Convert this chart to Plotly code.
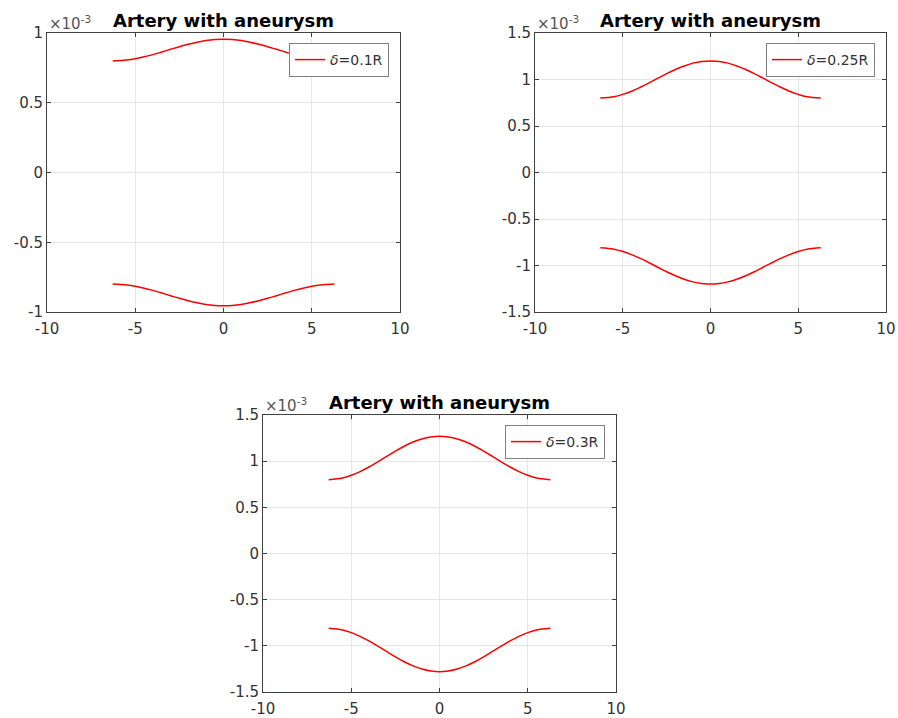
import plotly.graph_objects as go

# axial position (same for every panel)
x_pos = [-6.28, -5.5, -5.0, -4.5, -4.0, -3.5, -3.0, -2.5, -2.0, -1.5, -1.0, -0.5, 0.0,
         0.5, 1.0, 1.5, 2.0, 2.5, 3.0, 3.5, 4.0, 4.5, 5.0, 5.5, 6.28]

# wall radius, in units of 1e-3
upper_01 = [0.800, 0.806, 0.815, 0.829, 0.845, 0.864, 0.883, 0.902, 0.919, 0.934, 0.946, 0.953, 0.955,
            0.953, 0.946, 0.934, 0.919, 0.902, 0.883, 0.864, 0.845, 0.829, 0.815, 0.806, 0.800]
lower_01 = [-0.800, -0.806, -0.815, -0.829, -0.845, -0.864, -0.883, -0.902, -0.919, -0.934, -0.946, -0.953, -0.955,
            -0.953, -0.946, -0.934, -0.919, -0.902, -0.883, -0.864, -0.845, -0.829, -0.815, -0.806, -0.800]
upper_025 = [0.800, 0.815, 0.840, 0.874, 0.917, 0.964, 1.014, 1.063, 1.108, 1.146, 1.176, 1.194, 1.200,
             1.194, 1.176, 1.146, 1.108, 1.063, 1.014, 0.964, 0.917, 0.874, 0.840, 0.815, 0.800]
lower_025 = [-0.810, -0.825, -0.849, -0.883, -0.924, -0.970, -1.019, -1.067, -1.110, -1.148, -1.176, -1.194, -1.200,
             -1.194, -1.176, -1.148, -1.110, -1.067, -1.019, -0.970, -0.924, -0.883, -0.849, -0.825, -0.810]
upper_03 = [0.800, 0.818, 0.847, 0.887, 0.937, 0.993, 1.051, 1.109, 1.162, 1.207, 1.241, 1.262, 1.270,
            1.262, 1.241, 1.207, 1.162, 1.109, 1.051, 0.993, 0.937, 0.887, 0.847, 0.818, 0.800]
lower_03 = [-0.810, -0.828, -0.857, -0.897, -0.947, -1.003, -1.061, -1.119, -1.172, -1.217, -1.251, -1.272, -1.280,
            -1.272, -1.251, -1.217, -1.172, -1.119, -1.061, -1.003, -0.947, -0.897, -0.857, -0.828, -0.810]

legend_labels = ["<i>δ</i>=0.1R", "<i>δ</i>=0.25R", "<i>δ</i>=0.3R"]
title_text = "Artery with aneurysm"

x_ticks = [-10, -5, 0, 5, 10]
x_ticktext = ["-10", "-5", "0", "5", "10"]
y_ticks_1 = [-1, -0.5, 0, 0.5, 1]
y_ticktext_1 = ["-1", "-0.5", "0", "0.5", "1"]
y_ticks_2 = [-1.5, -1, -0.5, 0, 0.5, 1, 1.5]
y_ticktext_2 = ["-1.5", "-1", "-0.5", "0", "0.5", "1", "1.5"]

W, H = 898, 718
# panel pixel boxes: left, right, top, bottom
boxes = [(47, 400, 33, 312), (535, 886, 33, 312), (263, 616, 415, 692)]

panels = [
    (upper_01, lower_01, legend_labels[0], y_ticks_1, y_ticktext_1, [-1, 1]),
    (upper_025, lower_025, legend_labels[1], y_ticks_2, y_ticktext_2, [-1.5, 1.5]),
    (upper_03, lower_03, legend_labels[2], y_ticks_2, y_ticktext_2, [-1.5, 1.5]),
]

fig = go.Figure()
font_fam = "DejaVu Sans"
tick_col = "#333333"
layout = dict(
    width=W, height=H, margin=dict(l=0, r=0, t=0, b=0, autoexpand=False),
    paper_bgcolor="white", plot_bgcolor="white",
    font=dict(family=font_fam, color=tick_col),
    annotations=[],
)

for i, (up, lo, lab, yt, ytt, yr) in enumerate(panels):
    n = "" if i == 0 else str(i + 1)
    L, R, T, B = boxes[i]
    xd = [L / W, R / W]
    yd = [1 - B / H, 1 - T / H]
    leg = "legend" if i == 0 else f"legend{i+1}"
    fig.add_trace(go.Scatter(x=x_pos, y=up, mode="lines", line=dict(color="#ff0000", width=1.5, shape="spline"),
                             name=lab, showlegend=True, legend=leg, xaxis=f"x{n}", yaxis=f"y{n}"))
    fig.add_trace(go.Scatter(x=x_pos, y=lo, mode="lines", line=dict(color="#ff0000", width=1.5, shape="spline"),
                             name=lab, showlegend=False, legend=leg, xaxis=f"x{n}", yaxis=f"y{n}"))
    axcommon = dict(showline=True, linecolor="#404040", linewidth=1, mirror="allticks",
                    ticks="inside", ticklen=4, tickcolor="#404040",
                    showgrid=True, gridcolor="#e6e6e6", gridwidth=1, zeroline=False,
                    tickfont=dict(family=font_fam, size=15, color=tick_col))
    layout[f"xaxis{n}"] = dict(domain=xd, range=[-10, 10], tickvals=x_ticks, ticktext=x_ticktext,
                               anchor=f"y{n}", automargin=False, ticklabelstandoff=3, **axcommon)
    layout[f"yaxis{n}"] = dict(domain=yd, range=yr, tickvals=yt, ticktext=ytt,
                               anchor=f"x{n}", automargin=False, **axcommon)
    layout[leg] = dict(x=(R - 11) / W, y=1 - (T + 10) / H, xanchor="right", yanchor="top",
                       xref="paper", yref="paper",
                       bgcolor="white", bordercolor="#808080", borderwidth=1,
                       font=dict(family=font_fam, size=14, color=tick_col),
                       itemwidth=30, tracegroupgap=0)
    layout["annotations"].append(dict(text=f"<b>{title_text}</b>", x=(L + R) / 2 / W, y=1 - (T - 13) / H,
                                      xref="paper", yref="paper", xanchor="center", yanchor="middle",
                                      showarrow=False, font=dict(family=font_fam, size=18, color="black")))
    layout["annotations"].append(dict(text="×10<sup>-3</sup>", x=L / W, y=1 - (T + 2) / H,
                                      xref="paper", yref="paper", xanchor="left", yanchor="bottom",
                                      showarrow=False, font=dict(family=font_fam, size=15, color="#555555")))

fig.update_layout(**layout)
fig.write_html("out.html", config={"displayModeBar": False},
               post_script="document.body.style.margin='0px';document.body.style.overflow='hidden';")
